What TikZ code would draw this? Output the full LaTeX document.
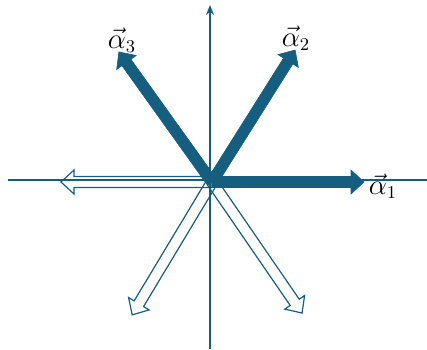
\documentclass[tikz,border=0pt]{standalone}
\usepackage{amsmath}
\usetikzlibrary{calc, arrows.meta}

\definecolor{rootblue}{RGB}{22,94,128}

\tikzset{
  pics/root/.style={code={
    \path[pic actions] (0,-5.5) -- (#1-13,-5.5) -- (#1-13,-12) -- (#1,0)
      -- (#1-13,12) -- (#1-13,5.5) -- (0,5.5) -- cycle;
  }},
  posroot/.style={fill=rootblue, draw=rootblue, line width=0.3pt},
  negroot/.style={draw=rootblue, line width=0.6pt},
  axis/.style={rootblue, line width=1pt},
  rootlabel/.style={font=\fontsize{13.5}{16}\selectfont}
}

\begin{document}
\begin{tikzpicture}[x=0.5pt, y=0.5pt]
\useasboundingbox (0,0) rectangle (427,349);
\coordinate (o) at (212,167);

% Negative roots
\pic[negroot, rotate=180] at (o) {root=151};
\pic[negroot, rotate=239] at (o) {root=155};
\pic[negroot, rotate=304.5] at (o) {root=159};

% Draw the axes
\draw[axis] (8,169) -- (427,169);
\draw[axis, -{Stealth[length=5pt, width=4pt]}] (210,0) -- (210,344);

% Positive roots
\pic[posroot, rotate=0] at (o) {root=152};
\pic[posroot, rotate=57.8] at (o) {root=156};
\pic[posroot, rotate=125.6] at (o) {root=160};

% Labels
\node[rootlabel] (a1) at (383,163) {$\vec{\alpha}_1$};
\node[rootlabel] (a2) at (296,311) {$\vec{\alpha}_2$};
\node[rootlabel] (a3) at (122,309) {$\vec{\alpha}_3$};
\end{tikzpicture}
\end{document}
